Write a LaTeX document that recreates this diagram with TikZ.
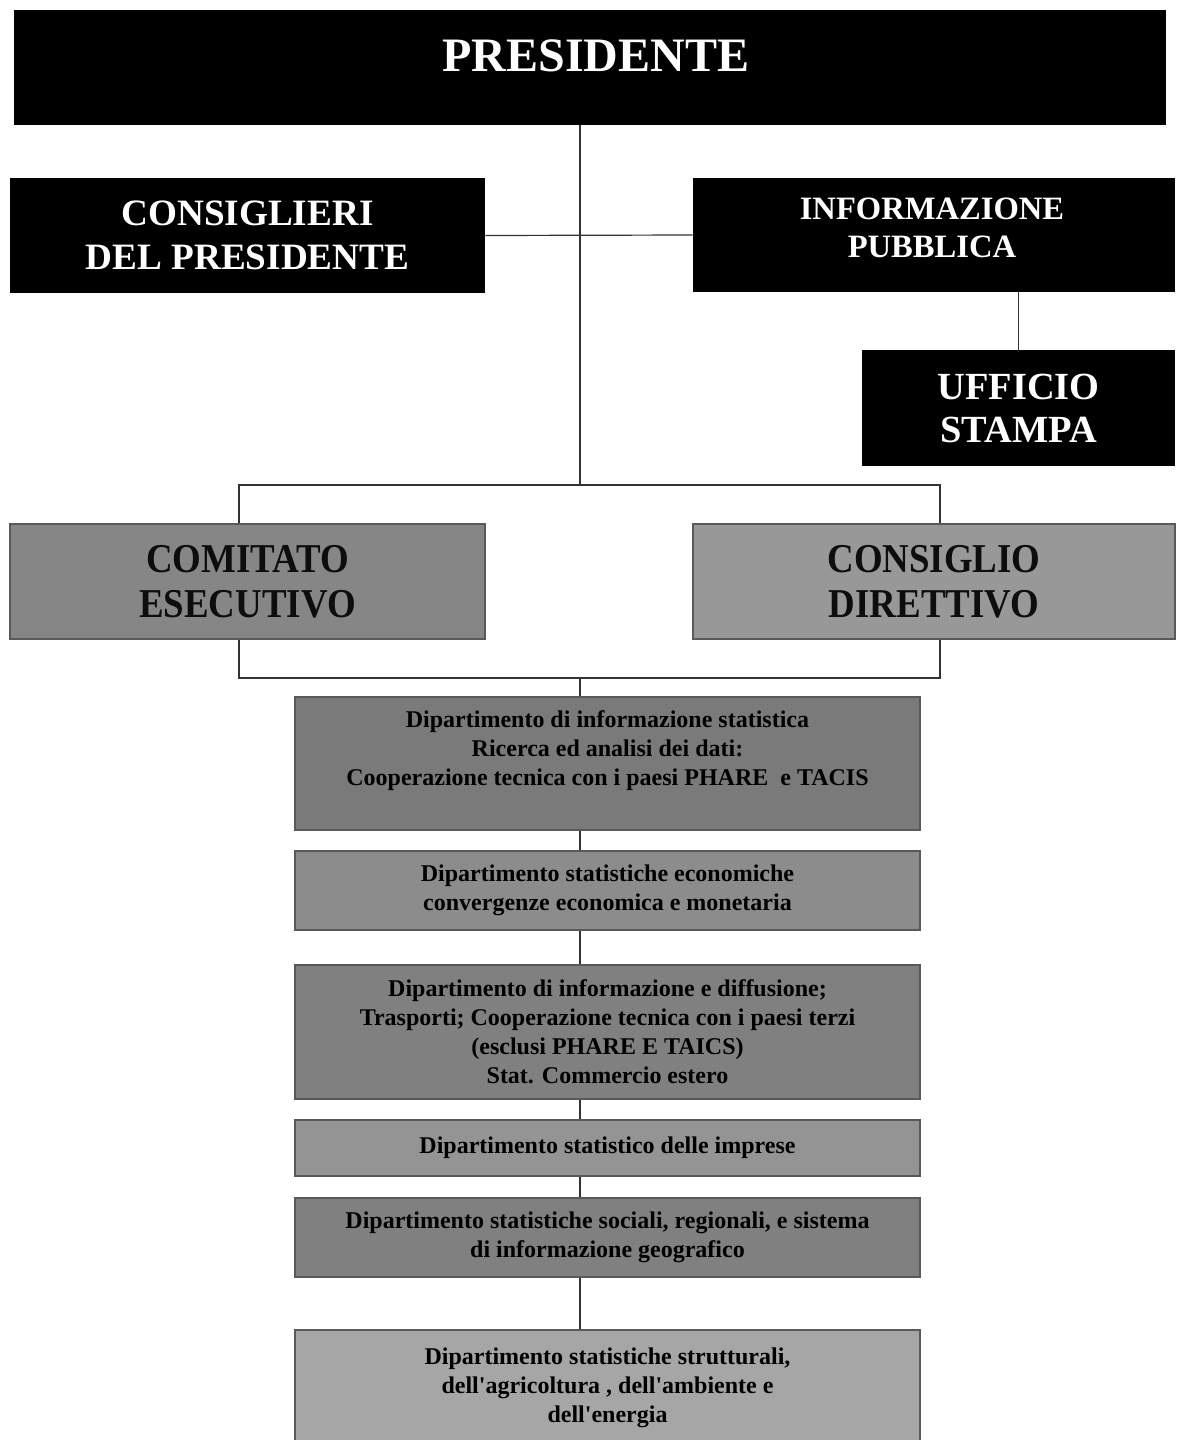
\documentclass[tikz,border=0pt]{standalone}
\usepackage{fontspec}
\setmainfont{Liberation Serif}
\newfontfamily\condfont[FakeStretch=0.9]{Liberation Serif}
\usetikzlibrary{positioning}

\definecolor{boardgrey}{HTML}{868686}
\definecolor{councilgrey}{HTML}{989898}
\tikzset{
  blackbox/.style={rectangle, fill=black, text=white, align=center, inner sep=0pt},
  greybox/.style={rectangle, fill=#1, draw=black!65, line width=0.8pt, text=black, align=center, inner sep=0pt},
  deptbox/.style={greybox=#1, minimum width=312.5pt, font=\fontsize{12}{14.5}\selectfont\bfseries},
  boardfont/.style={font=\fontsize{20.5}{22.5}\selectfont\condfont\bfseries, text=black!95},
  link/.style={draw=black!80, line width=0.6pt},
}

\begin{document}
\begin{tikzpicture}[x=0.5pt, y=-0.5pt]
  \useasboundingbox[fill=white] (0,0) rectangle (1180,1440);

  \node (P) [blackbox, minimum width=576pt, minimum height=57.5pt] at (590,67.5) {};
  \node (Ptxt) [font=\fontsize{24}{28}\selectfont\bfseries, text=white, inner sep=0pt] at ([xshift=3pt, yshift=6pt]P.center) {PRESIDENTE};

  \node (CP) [blackbox, minimum width=237.5pt, minimum height=57.5pt, font=\fontsize{18.6}{22}\selectfont\bfseries] at (247.5,235.5) {CONSIGLIERI\\DEL PRESIDENTE};
  \node (IP) [blackbox, minimum width=241pt, minimum height=57pt] at (934,235) {};
  \node (IPtxt) [font=\fontsize{16.3}{19}\selectfont\bfseries, text=white, align=center, inner sep=0pt] at ([xshift=-1pt, yshift=3.5pt]IP.center) {INFORMAZIONE\\PUBBLICA};
  \node (US) [blackbox, minimum width=156.5pt, minimum height=58pt, font=\fontsize{19.2}{21.5}\selectfont\bfseries] at (1018.5,408) {UFFICIO\\STAMPA};

  \node (CE) [greybox=boardgrey, minimum width=237.5pt, minimum height=57.5pt, boardfont] at (247.5,581.5) {COMITATO\\ESECUTIVO};
  \node (CD) [greybox=councilgrey, minimum width=241pt, minimum height=57.5pt, boardfont] at (934,581.5) {CONSIGLIO\\DIRETTIVO};

  \node (D1) [deptbox=black!52, minimum height=66.5pt] at (607.5,763.5) {};
  \node (D1txt) [font=\fontsize{12}{14.5}\selectfont\bfseries, align=center, inner sep=0pt] at ([yshift=6.5pt]D1.center) {Dipartimento di informazione statistica\\Ricerca ed analisi dei dati:\\Cooperazione tecnica con i paesi PHARE \ e TACIS};
  \node (D2) [deptbox=black!45, minimum height=39.5pt] at (607.5,890.5) {Dipartimento statistiche economiche\\convergenze economica e monetaria};
  \node (D3) [deptbox=black!50, minimum height=67pt] at (607.5,1032) {Dipartimento di informazione e diffusione;\\Trasporti; Cooperazione tecnica con i paesi terzi\\(esclusi PHARE E TAICS)\\Stat. Commercio estero};
  \node (D4) [deptbox=black!42, minimum height=28pt] at (607.5,1148) {Dipartimento statistico delle imprese};
  \node (D5) [deptbox=black!50, minimum height=39.5pt] at (607.5,1237.5) {Dipartimento statistiche sociali, regionali, e sistema\\di informazione geografico};
  \node (D6) [deptbox=black!35, minimum height=58pt] at (607.5,1388) {Dipartimento statistiche strutturali,\\dell\textquotesingle agricoltura , dell\textquotesingle ambiente e\\dell\textquotesingle energia};

  \coordinate (trunk) at (580,485);
  \coordinate (bl) at (239,485);
  \coordinate (br) at (940,485);
  \coordinate (bl2) at (239,678);
  \coordinate (br2) at (940,678);

  \draw[link] (P.south -| trunk) -- (trunk);
  \draw[link] (CP.east) -- (IP.west);
  \draw[link] (IP.south -| US.north) -- (US.north);
  \draw[link] (CE.north -| bl) -- (bl) -- (br) -- (CD.north -| br);
  \draw[link] (CE.south -| bl2) -- (bl2) -- (br2) -- (CD.south -| br2);
  \draw[link] (trunk |- bl2) -- (D1.north -| trunk);
  \foreach \a/\b in {D1/D2, D2/D3, D3/D4, D4/D5, D5/D6}
    \draw[link] (\a.south -| trunk) -- (\b.north -| trunk);
\end{tikzpicture}
\end{document}
